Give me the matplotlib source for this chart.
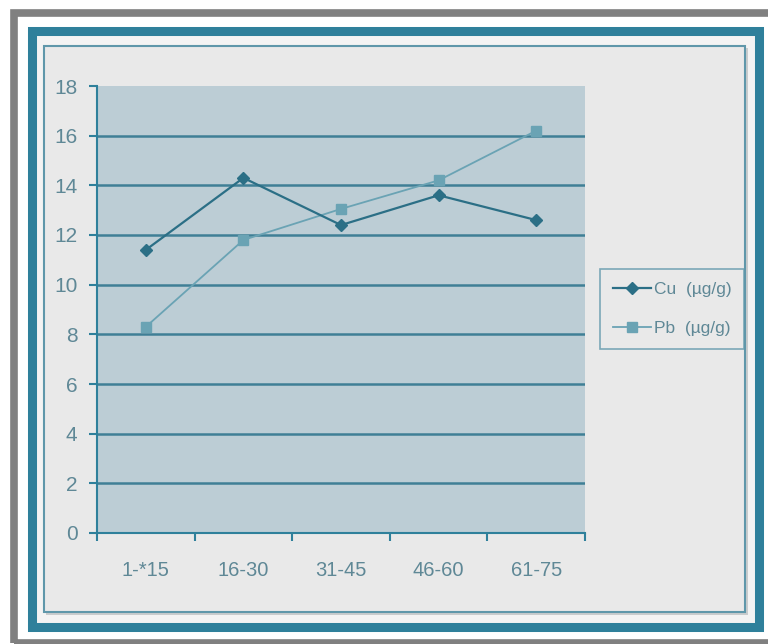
import matplotlib.pyplot as plt
import matplotlib.patches as patches

# data
groups = ['1-*15', '16-30', '31-45', '46-60', '61-75']
cu_values = [11.4, 14.3, 12.4, 13.6, 12.6]
pb_values = [8.3, 11.8, 13.05, 14.2, 16.2]
y_ticks = [0, 2, 4, 6, 8, 10, 12, 14, 16, 18]

TEAL = '#2f809b'
GRID = '#3f7f96'
CU_COLOR = '#2b6f86'
PB_COLOR = '#6aa3b4'
TEXT = '#5f8896'

plt.rcParams['font.family'] = ['Liberation Sans', 'DejaVu Sans']

W, H = 768, 644
fig = plt.figure(figsize=(W / 100, H / 100), dpi=100, facecolor='white')


def px_rect(x0, y0, x1, y1, **kw):
    # rectangle given in pixel coords with top-left origin, kept behind the axes
    return patches.Rectangle((x0 / W, 1 - y1 / H), (x1 - x0) / W, (y1 - y0) / H,
                             transform=fig.transFigure, zorder=-5, **kw)


# frames around the chart
fig.patches.append(px_rect(13.5, 12.5, 790, 642.5, fill=False, edgecolor='#808080', linewidth=5.5))
fig.patches.append(px_rect(32, 30.5, 759, 627, facecolor='#f3f3f3', edgecolor=TEAL, linewidth=6.5))
fig.patches.append(px_rect(46, 48, 748, 615, facecolor='#c9cccd', edgecolor='none'))
fig.patches.append(px_rect(43.5, 45.5, 745, 612, facecolor='#e9e9e9', edgecolor='#5f97aa', linewidth=1.5))

ax = fig.add_axes([97 / W, 1 - 533 / H, (585 - 97) / W, (533 - 86) / H])
ax.set_facecolor('#bccdd5')

x = list(range(len(groups)))
ax.plot(x, cu_values, color=CU_COLOR, linewidth=1.6, marker='D', markersize=6.5,
        markerfacecolor=CU_COLOR, markeredgecolor=CU_COLOR, label='Cu  (µg/g)', zorder=4)
ax.plot(x, pb_values, color=PB_COLOR, linewidth=1.3, marker='s', markersize=7,
        markerfacecolor=PB_COLOR, markeredgecolor=PB_COLOR, label='Pb  (µg/g)', zorder=3)

ax.set_xlim(-0.5, len(groups) - 0.5)
ax.set_ylim(0, 18)
ax.set_yticks(y_ticks)
ax.set_xticks(x)
ax.set_xticklabels(groups)
ax.set_xticks([i - 0.5 for i in range(len(groups) + 1)], minor=True)

for v in y_ticks[1:-1]:
    ax.axhline(v, color=GRID, linewidth=1.8, zorder=1)

for side in ['top', 'right']:
    ax.spines[side].set_visible(False)
for side in ['left', 'bottom']:
    ax.spines[side].set_color(TEAL)
    ax.spines[side].set_linewidth(1.5)

ax.tick_params(axis='y', colors=TEXT, labelsize=15, length=6, width=1.5, color=TEAL, pad=8)
ax.tick_params(axis='x', which='major', length=0, labelsize=14.5, colors=TEXT, pad=20)
ax.tick_params(axis='x', which='minor', length=6, width=1.5, color=TEAL)

leg = ax.legend(loc='center left', bbox_to_anchor=(600 / W, 1 - 309 / H),
                bbox_transform=fig.transFigure, frameon=True, fontsize=12.5,
                handlelength=2.2, handletextpad=0.15, borderpad=0.75,
                labelspacing=1.35, fancybox=False, borderaxespad=0)
leg.get_frame().set_edgecolor('#5f97aa')
leg.get_frame().set_facecolor('#e9e9e9')
leg.get_frame().set_linewidth(1.2)
for t in leg.get_texts():
    t.set_color(TEXT)

fig.savefig('out.png', dpi=100)
